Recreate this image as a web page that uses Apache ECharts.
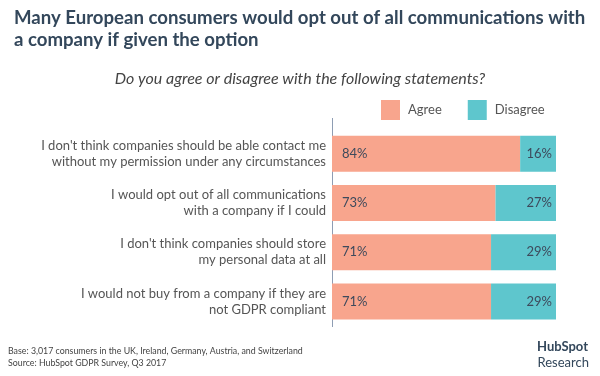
<!DOCTYPE html>
<html>
<head>
<meta charset="utf-8">
<script src="https://cdn.jsdelivr.net/npm/echarts@6/dist/echarts.min.js"></script>
<style>
  html, body { margin: 0; padding: 0; background: #fff; }
  #chart { width: 600px; height: 376px; }
</style>
</head>
<body>
<div id="chart"></div>
<script>
// statements, top to bottom
const categories = [
  "I don't think companies should be able contact me\nwithout my permission under any circumstances",
  'I would opt out of all communications\nwith a company if I could',
  "I don't think companies should store\nmy personal data at all",
  'I would not buy from a company if they are\nnot GDPR compliant'
]
const agree = [84, 73, 71, 71]
const disagree = [16, 27, 29, 29]

const fontFamily = 'Lato, "Open Sans", sans-serif'
const agreeColor = '#f8a58d'
const disagreeColor = '#5ec6cd'

let myChart = echarts.init(document.getElementById('chart'))
const options = {
  backgroundColor: '#FFFFFF',
  animation: false,
  textStyle: { fontFamily: fontFamily },
  title: [{
    text: 'Many European consumers would opt out of all communications with\na company if given the option',
    left: 9,
    top: 2,
    textStyle: { fontSize: 18.6, fontWeight: 'bold', color: '#33475b', lineHeight: 22, fontFamily: fontFamily }
  }, {
    text: 'Do you agree or disagree with the following statements?',
    left: 'center',
    top: 66,
    textStyle: { fontSize: 16, fontWeight: 'normal', fontStyle: 'italic', color: '#444', fontFamily: fontFamily }
  }],
  legend: {
    data: ['Agree', 'Disagree'],
    left: 376,
    top: 95,
    itemWidth: 19,
    itemHeight: 20,
    itemGap: 26,
    icon: 'rect',
    textStyle: { fontSize: 13, color: '#555', padding: [0, 0, 0, 3], fontFamily: fontFamily }
  },
  grid: {
    left: 332,
    right: 44,
    top: 129,
    height: 197,
    containLabel: false
  },
  xAxis: {
    type: 'value',
    min: 0,
    max: 100,
    show: false
  },
  yAxis: {
    type: 'category',
    data: categories,
    inverse: true,
    axisLine: { show: false },
    axisTick: { show: false },
    axisLabel: {
      margin: 6,
      fontSize: 13,
      lineHeight: 16,
      color: '#555',
      align: 'right',
      fontFamily: fontFamily
    }
  },
  series: [{
    name: 'Agree',
    type: 'bar',
    stack: 'total',
    data: agree,
    barWidth: 36,
    itemStyle: { color: agreeColor },
    label: {
      show: true,
      position: 'insideLeft',
      offset: [5, 0],
      formatter: '{c}%',
      fontSize: 13,
      color: '#3d4a5c',
      fontFamily: fontFamily
    }
  }, {
    name: 'Disagree',
    type: 'bar',
    stack: 'total',
    data: disagree,
    barWidth: 36,
    itemStyle: { color: disagreeColor },
    label: {
      show: true,
      position: 'insideRight',
      offset: [1, 0],
      formatter: '{c}%',
      fontSize: 13,
      color: '#3d4a5c',
      fontFamily: fontFamily
    }
  }],
  graphic: [{
    // the vertical baseline reaches a bit above the first bar
    type: 'line',
    shape: { x1: 332.5, y1: 118, x2: 332.5, y2: 327 },
    style: { stroke: '#8e9db3', lineWidth: 1 }
  }, {
    type: 'text',
    left: 8,
    top: 345,
    style: {
      text: 'Base: 3,017 consumers in the UK, Ireland, Germany, Austria, and Switzerland\nSource: HubSpot GDPR Survey, Q3 2017',
      fontSize: 8.8,
      lineHeight: 12,
      fill: '#444',
      fontFamily: fontFamily
    }
  }, {
    type: 'text',
    right: 12,
    top: 340,
    style: {
      text: 'HubSpot',
      fontSize: 13,
      fontWeight: 'bold',
      fill: '#33475b',
      fontFamily: fontFamily
    }
  }, {
    type: 'text',
    right: 11,
    top: 356,
    style: {
      text: 'Research',
      fontSize: 13,
      fill: '#33475b',
      fontFamily: fontFamily
    }
  }]
}
myChart.setOption(options)
</script>
</body>
</html>
